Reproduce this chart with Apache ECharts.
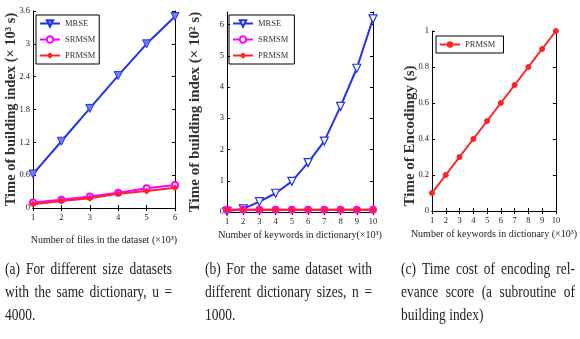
<!DOCTYPE html>
<html>
<head>
<meta charset="utf-8">
<script src="https://cdn.jsdelivr.net/npm/echarts@6/dist/echarts.min.js"></script>
<style>
  html, body { margin: 0; padding: 0; background: #fff; }
  #chart { width: 580px; height: 339px; }
</style>
</head>
<body>
<div id="chart"></div>
<script>
// panel (a): files in dataset
const filesX = [1, 2, 3, 4, 5, 6];
const mrseA = [0.62, 1.22, 1.82, 2.42, 3.0, 3.5];
const srmsmA = [0.1, 0.15, 0.21, 0.28, 0.36, 0.42];
const prmsmA = [0.07, 0.13, 0.18, 0.26, 0.31, 0.37];

// panel (b): keywords in dictionary
const keywordsX = [1, 2, 3, 4, 5, 6, 7, 8, 9, 10];
const mrseB = [0.02, 0.1, 0.33, 0.6, 0.98, 1.58, 2.27, 3.38, 4.6, 6.18];
const srmsmB = [0.07, 0.07, 0.07, 0.07, 0.07, 0.07, 0.07, 0.07, 0.07, 0.07];
const prmsmB = [0.07, 0.07, 0.07, 0.07, 0.07, 0.07, 0.07, 0.07, 0.07, 0.07];

// panel (c): encoding time
const encodeC = [0.1, 0.2, 0.3, 0.4, 0.5, 0.6, 0.7, 0.8, 0.9, 1.0];

const captions = [
    ['(a) For different size datasets', 'with the same dictionary, u =', '4000.'],
    ['(b) For the same dataset with', 'different dictionary sizes, n =', '1000.'],
    ['(c) Time cost of encoding rel-', 'evance score (a subroutine of', 'building index)']
];

const serif = 'Liberation Serif';
const zip = (xs, ys) => xs.map((x, i) => [x, ys[i]]);

const tickLabel = { color: '#222', fontFamily: serif, fontSize: 8.5, margin: 5 };

function xAxes(grid, min, max, name, nameGap) {
    return [{
        type: 'value', gridIndex: grid, min: min, max: max, interval: 1,
        name: name, nameLocation: 'middle', nameGap: nameGap, nameMoveOverlap: false,
        nameTextStyle: { color: '#222', fontFamily: serif, fontSize: 10 },
        axisLine: { lineStyle: { color: '#000', width: 1 } },
        axisTick: { inside: true, length: 3, lineStyle: { color: '#000' } },
        axisLabel: tickLabel,
        splitLine: { show: false }
    }, {
        type: 'value', gridIndex: grid, min: min, max: max, interval: 1, position: 'top',
        axisLine: { lineStyle: { color: '#000', width: 1 } },
        axisTick: { inside: true, length: 3, lineStyle: { color: '#000' } },
        axisLabel: { show: false },
        splitLine: { show: false }
    }];
}

function yAxes(grid, max, interval, name, nameGap, nameSize, namePad) {
    const onTick = Math.abs(Math.round(max / interval) * interval - max) < 1e-9;
    return [{
        type: 'value', gridIndex: grid, min: 0, max: max, interval: interval,
        name: name, nameLocation: 'middle', nameGap: nameGap, nameMoveOverlap: false,
        nameTextStyle: { color: '#333', fontFamily: serif, fontSize: nameSize, fontWeight: 'bold', padding: namePad || 0 },
        axisLine: { show: true, lineStyle: { color: '#000', width: 1 } },
        axisTick: { show: true, inside: true, length: 3, lineStyle: { color: '#000' } },
        axisLabel: Object.assign({}, tickLabel, { showMaxLabel: onTick, margin: 3 }),
        splitLine: { show: false }
    }, {
        type: 'value', gridIndex: grid, min: 0, max: max, interval: interval, position: 'right',
        axisLine: { show: true, lineStyle: { color: '#000', width: 1 } },
        axisTick: { show: true, inside: true, length: 3, lineStyle: { color: '#000' } },
        axisLabel: { show: false },
        splitLine: { show: false }
    }];
}

function line(name, xi, yi, data, color, symbol, size, extra) {
    return Object.assign({
        name: name, type: 'line', xAxisIndex: xi, yAxisIndex: yi, data: data,
        symbol: symbol, symbolSize: size, showAllSymbol: true,
        lineStyle: { color: color, width: 2 },
        itemStyle: { color: color, borderColor: color },
        animation: false
    }, extra || {});
}

const legendBase = {
    orient: 'vertical', borderColor: '#000', borderWidth: 1, padding: [4, 4, 4, 3],
    itemWidth: 20, itemHeight: 8, itemGap: 7, selectedMode: false,
    textStyle: { color: '#333', fontFamily: serif, fontSize: 8.5 }
};

// justified captions, each word placed on its own
const capFont = 16, capScale = 0.84;
const ctx = document.createElement('canvas').getContext('2d');
ctx.font = capFont + 'px "' + serif + '"';
const capLeft = [5, 205, 401];
const capRight = [172, 372, 575];
const captionGraphics = [];
captions.forEach((lines, p) => {
    lines.forEach((txt, i) => {
        const words = txt.split(' ');
        const widths = words.map(w => ctx.measureText(w).width * capScale);
        const space = ctx.measureText(' ').width * capScale;
        const total = widths.reduce((a, b) => a + b, 0);
        const last = i === lines.length - 1;
        const gap = last || words.length < 2 ? space : (capRight[p] - capLeft[p] - total) / (words.length - 1);
        let x = capLeft[p];
        words.forEach((w, k) => {
            captionGraphics.push({
                type: 'text', x: x, y: 270 + i * 23, scaleX: capScale,
                style: { text: w, fontFamily: serif, fontSize: capFont, fill: '#222', verticalAlign: 'middle' }
            });
            x += widths[k] + gap;
        });
    });
});

const chart = echarts.init(document.getElementById('chart'));
chart.setOption({
    backgroundColor: '#fff',
    grid: [
        { left: 33, top: 11, width: 142, height: 197 },
        { left: 227, top: 12, width: 146, height: 200 },
        { left: 432, top: 31, width: 131, height: 180 }
    ],
    xAxis: [].concat(
        xAxes(0, 1, 6, 'Number of files in the dataset (×10³)', 27),
        xAxes(1, 1, 10, 'Number of keywords in dictionary(×10³)', 18),
        xAxes(2, 1, 10, 'Number of keywords in dictionary (×10³)', 18)
    ),
    yAxis: [].concat(
        yAxes(0, 3.6, 0.6, 'Time of building index (× 10³ s)', 14, 14.5),
        yAxes(1, 6.4, 1, 'Time of building index (× 10² s)', 24, 15),
        yAxes(2, 1, 0.2, 'Time of Encodingy (s)', 14, 15, [0, 30, 0, 0])
    ),
    legend: [
        Object.assign({ left: 36, top: 15, data: ['MRSE', 'SRMSM', 'PRMSM'] }, legendBase),
        Object.assign({ left: 229, top: 15, data: ['MRSE ', 'SRMSM ', 'PRMSM '] }, legendBase),
        Object.assign({ left: 436, top: 36, data: ['PRMSM  '] }, legendBase)
    ],
    series: [
        line('MRSE', 0, 0, zip(filesX, mrseA), '#2233ee', 'triangle', 8, { symbolRotate: 180, itemStyle: { color: '#7080ff', borderColor: '#2233ee', borderWidth: 1 } }),
        line('SRMSM', 0, 0, zip(filesX, srmsmA), '#ff00ff', 'emptyCircle', 6),
        line('PRMSM', 0, 0, zip(filesX, prmsmA), '#ff2222', 'diamond', 6),

        line('MRSE ', 2, 2, zip(keywordsX, mrseB), '#2233ee', 'triangle', 8, { symbolRotate: 180, itemStyle: { color: '#fff', borderColor: '#2233ee', borderWidth: 1.2 } }),
        line('SRMSM ', 2, 2, zip(keywordsX, srmsmB), '#ff00ff', 'emptyCircle', 6),
        line('PRMSM ', 2, 2, zip(keywordsX, prmsmB), '#ff2222', 'diamond', 6),

        line('PRMSM  ', 4, 4, zip(keywordsX, encodeC), '#ff2222', 'circle', 5)
    ],
    graphic: captionGraphics
});
</script>
</body>
</html>
